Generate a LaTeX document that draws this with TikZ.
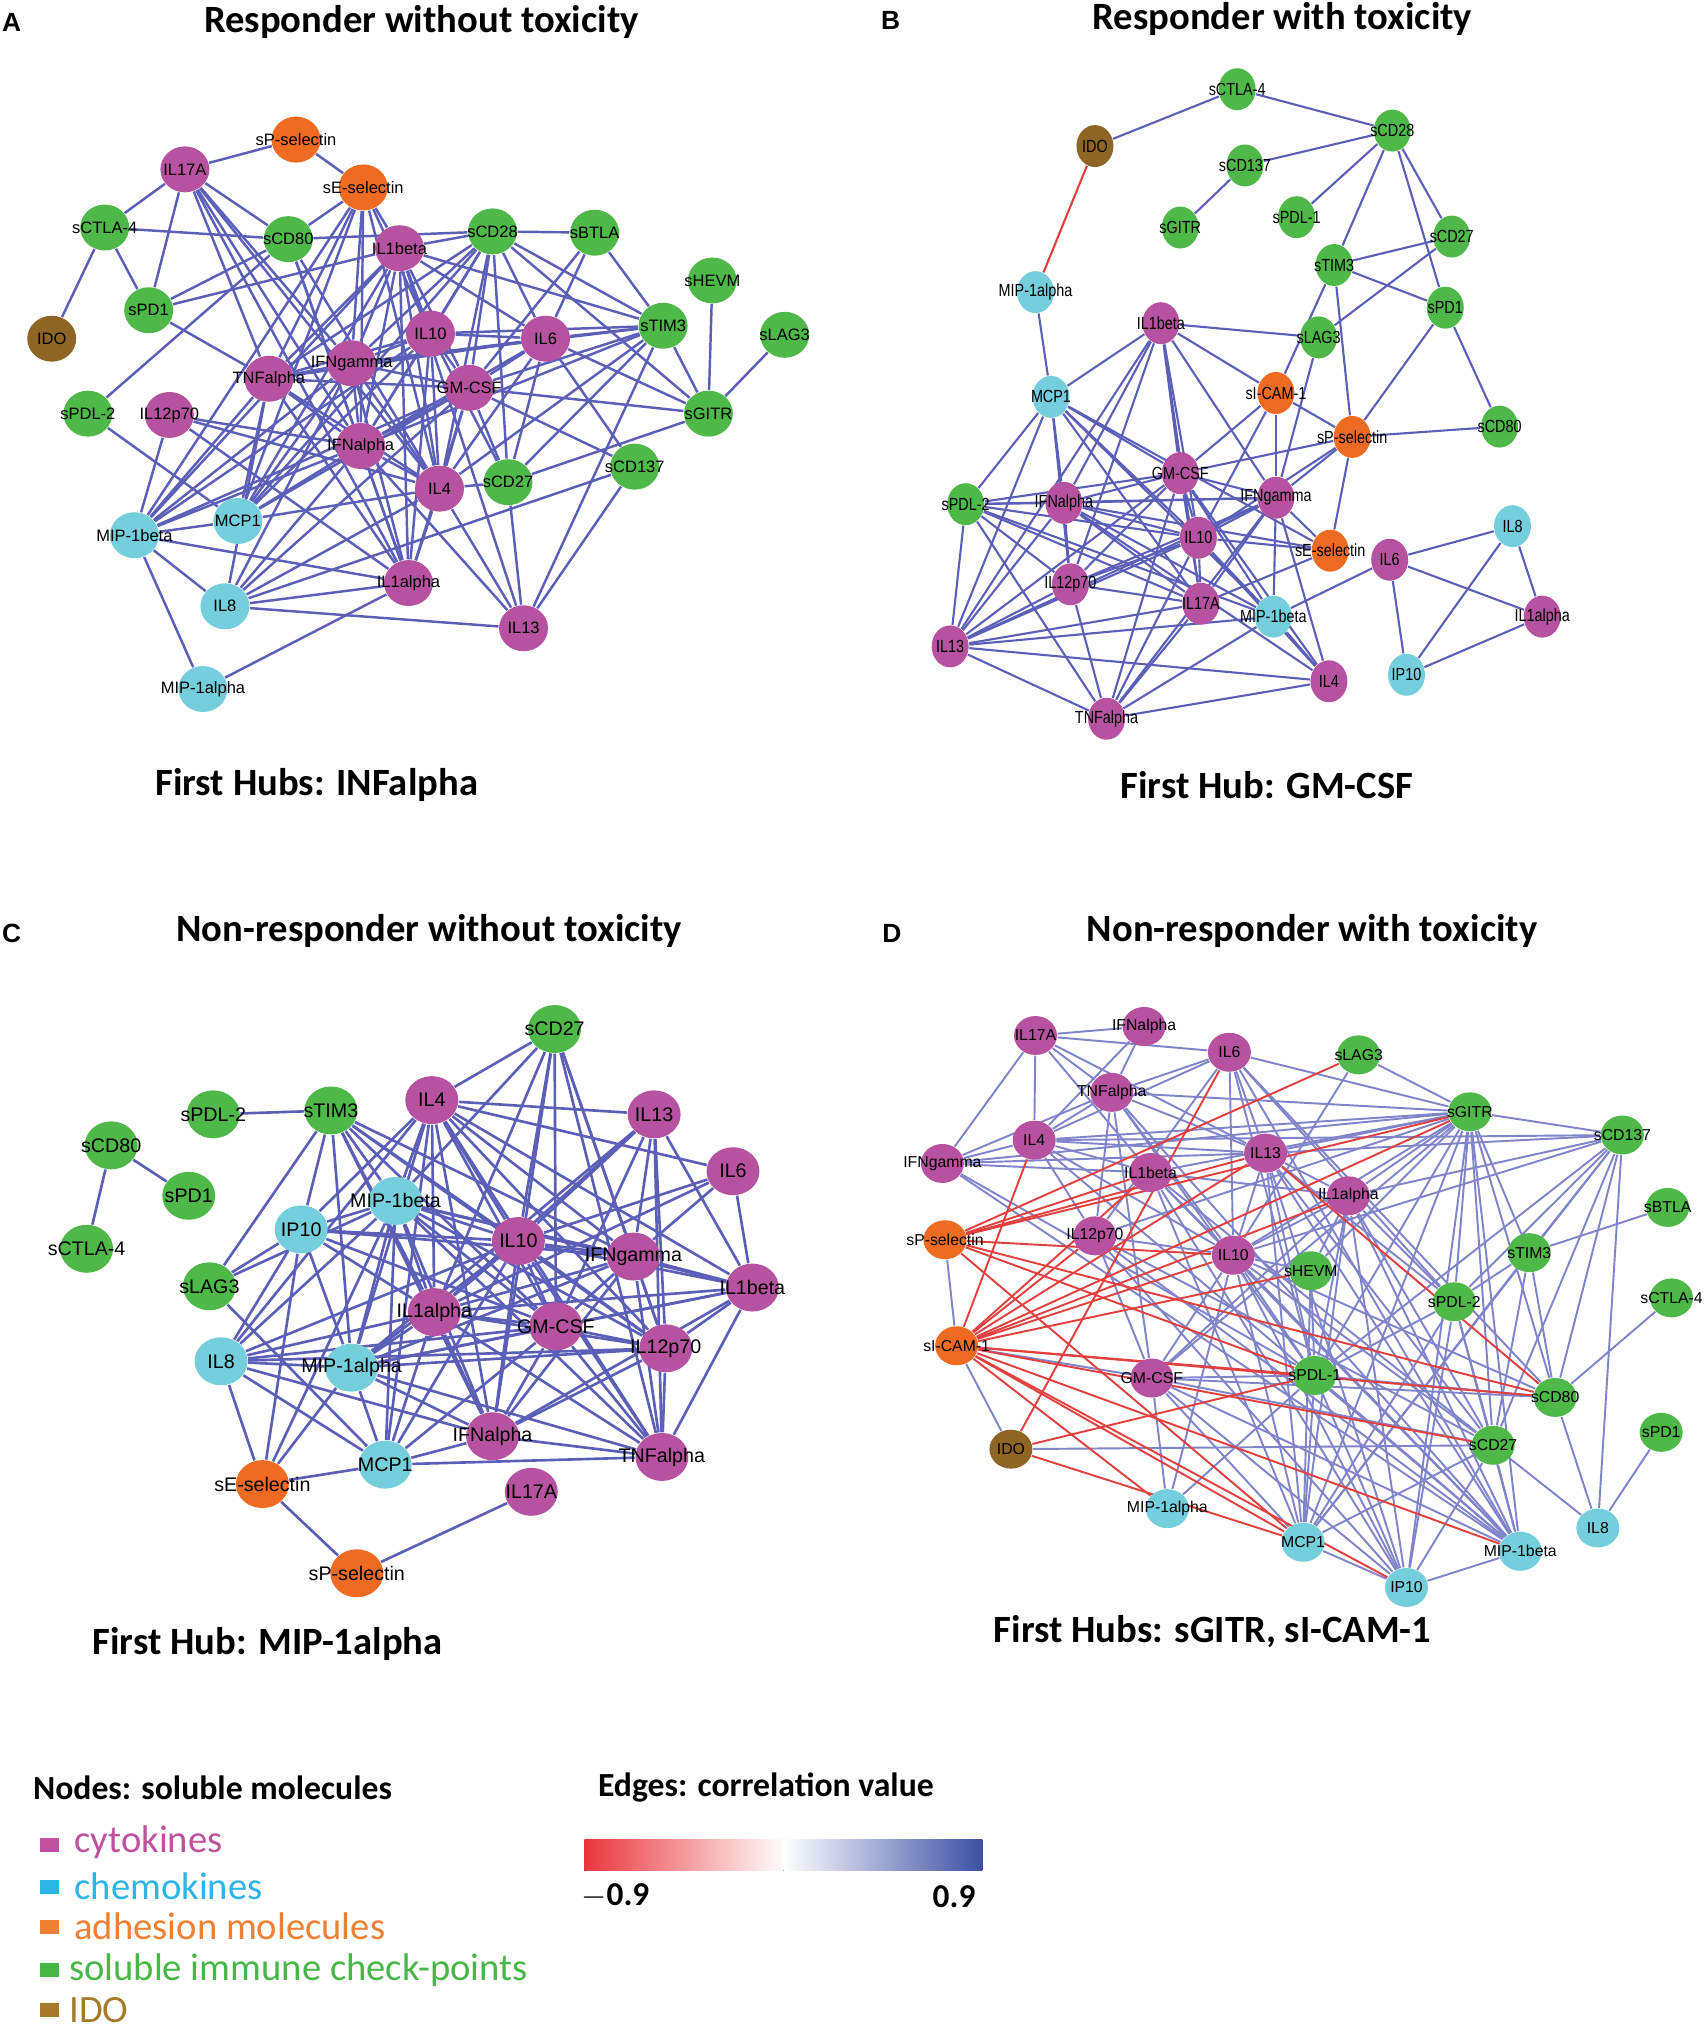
\documentclass[tikz,border=0pt]{standalone}
\usepackage{fontspec}
\setmainfont{Liberation Sans}
\newfontfamily\calib{Carlito}
\newfontfamily\narrowsf[FakeStretch=0.82]{Liberation Sans}
\usepackage{tikz}
\usetikzlibrary{shapes.geometric,backgrounds}
\definecolor{cytoC}{HTML}{B6529F}
\definecolor{chemC}{HTML}{74CEDC}
\definecolor{adhC}{HTML}{EE6B21}
\definecolor{chkC}{HTML}{4EB848}
\definecolor{idoC}{HTML}{8F6526}
\definecolor{edgeB}{HTML}{5B5FB7}
\definecolor{edgeL}{HTML}{8084CA}
\definecolor{edgeR}{HTML}{E2403F}
\definecolor{barR}{HTML}{E8363D}
\definecolor{barB}{HTML}{3C4FA2}
\definecolor{txCyto}{HTML}{C0519E}
\definecolor{txChem}{HTML}{2EB5E8}
\definecolor{txAdh}{HTML}{EF7F33}
\definecolor{txChk}{HTML}{47B848}
\definecolor{txIdo}{HTML}{A57B2A}

\tikzset{
  mol/.style={ellipse, inner sep=0pt},
  pa/.style={mol, minimum width=.49cm, minimum height=.46cm, label={[font=\fontsize{4.7}{5}\selectfont]center:#1}},
  pb/.style={mol, minimum width=.37cm, minimum height=.42cm, label={[font=\narrowsf\fontsize{5}{5}\selectfont]center:#1}},
  pc/.style={mol, minimum width=.53cm, minimum height=.48cm, label={[font=\fontsize{5.6}{6}\selectfont]center:#1}},
  pd/.style={mol, minimum width=.43cm, minimum height=.39cm, label={[font=\fontsize{4.5}{5}\selectfont]center:#1}},
  cyt/.style={fill=cytoC}, chem/.style={fill=chemC}, adh/.style={fill=adhC},
  chk/.style={fill=chkC}, idoN/.style={fill=idoC},
  ea/.style={draw=edgeB, line width=.7pt},
  eb/.style={draw=edgeB, line width=.6pt},
  ec/.style={draw=edgeB, line width=.75pt},
  ed/.style={draw=edgeL, line width=.55pt},
  neg/.style={draw=edgeR, line width=.55pt},
  ttl/.style={font=\calib\bfseries\fontsize{11}{13}\selectfont},
  pnl/.style={font=\bfseries\fontsize{7.5}{9}\selectfont},
  hd/.style={font=\calib\bfseries\fontsize{9.6}{11}\selectfont, anchor=west},
  itm/.style={font=\calib\fontsize{11}{13}\selectfont, anchor=west},
  sq/.style={minimum width=.19cm, minimum height=.14cm, inner sep=0pt}
}

\begin{document}
\begin{tikzpicture}[x=0.012932cm, y=-0.012932cm]
\useasboundingbox (0,0) rectangle (1320,1568);

% titles
\node[pnl] (lA) at (9,17) {A};
\node[ttl] (tA) at (326,17) {Responder without toxicity};
\node[pnl] (lB) at (689,16) {B};
\node[ttl] (tB) at (992,15) {Responder with toxicity};
\node[pnl] (lC) at (9,722) {C};
\node[ttl] (tC) at (332,720) {Non-responder without toxicity};
\node[pnl] (lD) at (690,722) {D};
\node[ttl] (tD) at (1015,720) {Non-responder with toxicity};
\node[ttl] (hA) at (245,607) {First Hubs: INFalpha};
\node[ttl] (hB) at (980,607) {First Hub: GM-CSF};
\node[ttl] (hC) at (207,1272) {First Hub: MIP-1alpha};
\node[ttl] (hD) at (938,1262) {First Hubs: sGITR, sI-CAM-1};

% panel A
\node[pa=IL17A, cyt] (aIL17A) at (143,131) {};
\node[pa=sP-selectin, adh] (aSP) at (229,108) {};
\node[pa=sE-selectin, adh] (aSE) at (281,145) {};
\node[pa=sCTLA-4, chk] (aCTLA) at (81,176) {};
\node[pa=sCD80, chk] (aCD80) at (223,185) {};
\node[pa=IL1beta, cyt] (aIL1b) at (309,192) {};
\node[pa=sCD28, chk] (aCD28) at (381,179) {};
\node[pa=sBTLA, chk] (aBTLA) at (460,180) {};
\node[pa=sHEVM, chk] (aHEVM) at (551,217) {};
\node[pa=sPD1, chk] (aPD1) at (115,240) {};
\node[pa=IDO, idoN] (aIDO) at (40,262) {};
\node[pa=IL10, cyt] (aIL10) at (333,258) {};
\node[pa=IL6, cyt] (aIL6) at (422,262) {};
\node[pa=sTIM3, chk] (aTIM3) at (513,252) {};
\node[pa=sLAG3, chk] (aLAG3) at (607,259) {};
\node[pa=IFNgamma, cyt] (aIFNg) at (272,281) {};
\node[pa=TNFalpha, cyt] (aTNFa) at (208,293) {};
\node[pa=GM-CSF, cyt] (aGMCSF) at (363,300) {};
\node[pa=sGITR, chk] (aGITR) at (548,320) {};
\node[pa=sPDL-2, chk] (aPDL2) at (68,320) {};
\node[pa=IL12p70, cyt] (aIL12) at (131,321) {};
\node[pa=IFNalpha, cyt] (aIFNa) at (279,345) {};
\node[pa=IL4, cyt] (aIL4) at (340,378) {};
\node[pa=sCD27, chk] (aCD27) at (393,373) {};
\node[pa=sCD137, chk] (aCD137) at (491,361) {};
\node[pa=MCP1, chem] (aMCP1) at (184,403) {};
\node[pa=MIP-1beta, chem] (aMIP1b) at (104,414) {};
\node[pa=IL1alpha, cyt] (aIL1a) at (316,451) {};
\node[pa=IL8, chem] (aIL8) at (174,469) {};
\node[pa=IL13, cyt] (aIL13) at (405,486) {};
\node[pa=MIP-1alpha, chem] (aMIP1a) at (157,533) {};

% panel B
\node[pb=sCTLA-4, chk] (bCTLA) at (957,69) {};
\node[pb=sCD28, chk] (bCD28) at (1077,101) {};
\node[pb=IDO, idoN] (bIDO) at (847,113) {};
\node[pb=sCD137, chk] (bCD137) at (963,128) {};
\node[pb=sGITR, chk] (bGITR) at (913,176) {};
\node[pb=sPDL-1, chk] (bPDL1) at (1003,168) {};
\node[pb=sCD27, chk] (bCD27) at (1123,183) {};
\node[pb=sTIM3, chk] (bTIM3) at (1032,205) {};
\node[pb=sPD1, chk] (bPD1) at (1118,238) {};
\node[pb=MIP-1alpha, chem] (bMIP1a) at (801,226) {};
\node[pb=IL1beta, cyt] (bIL1b) at (898,250) {};
\node[pb=sLAG3, chk] (bLAG3) at (1020,261) {};
\node[pb=MCP1, chem] (bMCP1) at (813,307) {};
\node[pb=sI-CAM-1, adh] (bICAM) at (987,304) {};
\node[pb=sCD80, chk] (bCD80) at (1160,330) {};
\node[pb=sP-selectin, adh] (bSP) at (1046,338) {};
\node[pb=GM-CSF, cyt] (bGMCSF) at (913,366) {};
\node[pb=sPDL-2, chk] (bPDL2) at (747,390) {};
\node[pb=IFNalpha, cyt] (bIFNa) at (823,389) {};
\node[pb=IFNgamma, cyt] (bIFNg) at (987,385) {};
\node[pb=IL10, cyt] (bIL10) at (927,416) {};
\node[pb=sE-selectin, adh] (bSE) at (1029,426) {};
\node[pb=IL6, cyt] (bIL6) at (1075,433) {};
\node[pb=IL8, chem] (bIL8) at (1170,407) {};
\node[pb=IL12p70, cyt] (bIL12) at (828,452) {};
\node[pb=IL17A, cyt] (bIL17A) at (929,467) {};
\node[pb=MIP-1beta, chem] (bMIP1b) at (985,477) {};
\node[pb=IL1alpha, cyt] (bIL1a) at (1193,477) {};
\node[pb=IL13, cyt] (bIL13) at (735,500) {};
\node[pb=IP10, chem] (bIP10) at (1088,522) {};
\node[pb=IL4, cyt] (bIL4) at (1028,527) {};
\node[pb=TNFalpha, cyt] (bTNFa) at (856,556) {};

% panel C
\node[pc=sCD27, chk] (cCD27) at (429,796) {};
\node[pc=IL4, cyt] (cIL4) at (334,851) {};
\node[pc=sPDL-2, chk] (cPDL2) at (165,862) {};
\node[pc=sTIM3, chk] (cTIM3) at (256,859) {};
\node[pc=IL13, cyt] (cIL13) at (506,862) {};
\node[pc=sCD80, chk] (cCD80) at (86,886) {};
\node[pc=IL6, cyt] (cIL6) at (567,906) {};
\node[pc=sPD1, chk] (cPD1) at (146,925) {};
\node[pc=MIP-1beta, chem] (cMIP1b) at (306,929) {};
\node[pc=IP10, chem] (cIP10) at (233,951) {};
\node[pc=sCTLA-4, chk] (cCTLA) at (67,966) {};
\node[pc=IL10, cyt] (cIL10) at (401,960) {};
\node[pc=IFNgamma, cyt] (cIFNg) at (490,972) {};
\node[pc=IL1beta, cyt] (cIL1b) at (582,996) {};
\node[pc=sLAG3, chk] (cLAG3) at (162,995) {};
\node[pc=IL1alpha, cyt] (cIL1a) at (336,1015) {};
\node[pc=GM-CSF, cyt] (cGMCSF) at (430,1026) {};
\node[pc=IL12p70, cyt] (cIL12) at (515,1043) {};
\node[pc=IL8, chem] (cIL8) at (171,1053) {};
\node[pc=MIP-1alpha, chem] (cMIP1a) at (272,1058) {};
\node[pc=IFNalpha, cyt] (cIFNa) at (381,1111) {};
\node[pc=TNFalpha, cyt] (cTNFa) at (512,1127) {};
\node[pc=MCP1, chem] (cMCP1) at (298,1133) {};
\node[pc=sE-selectin, adh] (cSE) at (203,1148) {};
\node[pc=IL17A, cyt] (cIL17A) at (411,1154) {};
\node[pc=sP-selectin, adh] (cSP) at (276,1217) {};

% panel D
\node[pd=IL17A, cyt] (dIL17A) at (801,801) {};
\node[pd=IFNalpha, cyt] (dIFNa) at (885,794) {};
\node[pd=IL6, cyt] (dIL6) at (951,814) {};
\node[pd=sLAG3, chk] (dLAG3) at (1051,816) {};
\node[pd=TNFalpha, cyt] (dTNFa) at (860,845) {};
\node[pd=sGITR, chk] (dGITR) at (1137,860) {};
\node[pd=sCD137, chk] (dCD137) at (1255,878) {};
\node[pd=IL4, cyt] (dIL4) at (800,882) {};
\node[pd=IFNgamma, cyt] (dIFNg) at (729,900) {};
\node[pd=IL13, cyt] (dIL13) at (979,892) {};
\node[pd=IL1beta, cyt] (dIL1b) at (890,907) {};
\node[pd=IL1alpha, cyt] (dIL1a) at (1043,925) {};
\node[pd=sBTLA, chk] (dBTLA) at (1290,934) {};
\node[pd=sP-selectin, adh] (dSP) at (731,959) {};
\node[pd=IL12p70, cyt] (dIL12) at (847,956) {};
\node[pd=IL10, cyt] (dIL10) at (954,971) {};
\node[pd=sTIM3, chk] (dTIM3) at (1183,969) {};
\node[pd=sHEVM, chk] (dHEVM) at (1014,983) {};
\node[pd=sCTLA-4, chk] (dCTLA) at (1293,1004) {};
\node[pd=sPDL-2, chk] (dPDL2) at (1125,1007) {};
\node[pd=sI-CAM-1, adh] (dICAM) at (740,1041) {};
\node[pd=GM-CSF, cyt] (dGMCSF) at (891,1066) {};
\node[pd=sPDL-1, chk] (dPDL1) at (1017,1064) {};
\node[pd=sCD80, chk] (dCD80) at (1203,1081) {};
\node[pd=IDO, idoN] (dIDO) at (782,1121) {};
\node[pd=sCD27, chk] (dCD27) at (1155,1118) {};
\node[pd=sPD1, chk] (dPD1) at (1285,1108) {};
\node[pd=MIP-1alpha, chem] (dMIP1a) at (903,1167) {};
\node[pd=IL8, chem] (dIL8) at (1236,1182) {};
\node[pd=MCP1, chem] (dMCP1) at (1008,1193) {};
\node[pd=MIP-1beta, chem] (dMIP1b) at (1176,1200) {};
\node[pd=IP10, chem] (dIP10) at (1088,1228) {};

% edges under the nodes
\begin{scope}[on background layer]
\path[ea] (aIL17A) edge (aSP) edge (aCTLA) edge (aPD1) edge (aCD80) edge (aTNFa) edge (aIFNg) edge (aIFNa) edge (aIL4) edge (aIL1a);
\path[ea] (aSP) edge (aSE);
\path[ea] (aSE) edge (aCD80) edge (aIL1b) edge (aTNFa) edge (aIFNg) edge (aIFNa) edge (aMCP1) edge (aMIP1b) edge (aIL10) edge (aIL4);
\path[ea] (aCTLA) edge (aCD80) edge (aPD1) edge (aIDO);
\path[ea] (aCD80) edge (aCD28) edge (aPD1) edge (aPDL2) edge (aIFNa) edge (aIL4) edge (aIL1a);
\path[ea] (aPD1) edge (aIL1b) edge (aTNFa);
\path[ea] (aIL1b) edge (aCD28) edge (aIL10) edge (aGMCSF) edge (aIL4) edge (aIFNa) edge (aTNFa) edge (aMCP1) edge (aMIP1b) edge (aIFNg) edge (aIL6) edge (aTIM3) edge (aIL1a) edge (aIL13);
\path[ea] (aCD28) edge (aBTLA) edge (aIL10) edge (aGMCSF) edge (aIL4) edge (aCD27) edge (aIL6) edge (aTIM3) edge (aGITR) edge (aIFNg) edge (aIFNa) edge (aMCP1) edge (aTNFa);
\path[ea] (aBTLA) edge (aTIM3) edge (aIL6) edge (aGMCSF);
\path[ea] (aHEVM) edge (aGITR);
\path[ea] (aLAG3) edge (aGITR);
\path[ea] (aTIM3) edge (aGITR) edge (aIL10) edge (aIL6) edge (aGMCSF) edge (aIL4) edge (aIFNa) edge (aCD27) edge (aIL13) edge (aIFNg);
\path[ea] (aGITR) edge (aIL6) edge (aCD27) edge (aGMCSF);
\path[ea] (aIL10) edge (aIL6) edge (aGMCSF) edge (aIL4) edge (aIFNg) edge (aTNFa) edge (aIFNa) edge (aMCP1) edge (aMIP1b) edge (aIL1a) edge (aCD27);
\path[ea] (aIL6) edge (aCD137) edge (aIL4) edge (aCD27) edge (aGMCSF) edge (aIFNa) edge (aTNFa) edge (aIFNg);
\path[ea] (aGMCSF) edge (aCD137) edge (aCD27) edge (aIL4) edge (aIFNg) edge (aTNFa) edge (aIFNa) edge (aMCP1) edge (aMIP1b) edge (aIL8) edge (aIL1a);
\path[ea] (aIFNg) edge (aTNFa) edge (aIFNa) edge (aIL4) edge (aMCP1) edge (aMIP1b) edge (aIL8) edge (aIL1a);
\path[ea] (aTNFa) edge (aIFNa) edge (aIL4) edge (aIL1a) edge (aMCP1) edge (aMIP1b) edge (aIL8);
\path[ea] (aPDL2) edge (aMCP1);
\path[ea] (aIL12) edge (aMIP1b) edge (aIFNa) edge (aIL4) edge (aIL1a);
\path[ea] (aIFNa) edge (aIL4) edge (aIL1a) edge (aMCP1) edge (aMIP1b) edge (aIL8) edge (aIL13);
\path[ea] (aIL4) edge (aCD27) edge (aIL13) edge (aIL1a) edge (aMCP1) edge (aIL8);
\path[ea] (aCD27) edge (aIL13);
\path[ea] (aCD137) edge (aIL13) edge (aIL8);
\path[ea] (aMCP1) edge (aMIP1b);
\path[ea] (aMIP1b) edge (aIL8) edge (aMIP1a) edge (aIL1a);
\path[ea] (aIL8) edge (aIL1a) edge (aIL13);
\path[ea] (aMIP1a) edge (aIL1a);

\path[eb] (bCTLA) edge (bIDO) edge (bCD28);
\path[neg, line width=.6pt] (bIDO) edge (bMIP1a);
\path[eb] (bCD28) edge (bCD137) edge (bPDL1) edge (bTIM3) edge (bCD27) edge (bPD1);
\path[eb] (bCD137) edge (bGITR);
\path[eb] (bTIM3) edge (bCD27) edge (bPD1) edge (bICAM) edge (bSP);
\path[eb] (bCD27) edge (bLAG3);
\path[eb] (bPD1) edge (bSP) edge (bCD80);
\path[eb] (bMIP1a) edge (bMCP1);
\path[eb] (bIL1b) edge (bLAG3) edge (bMCP1) edge (bICAM) edge (bGMCSF) edge (bIL10) edge (bIFNa) edge (bIL17A) edge (bIFNg) edge (bIL13) edge (bIL12);
\path[eb] (bLAG3) edge (bIFNg);
\path[eb] (bICAM) edge (bSP) edge (bGMCSF) edge (bIFNg) edge (bIL10);
\path[eb] (bSP) edge (bCD80) edge (bGMCSF) edge (bIFNg) edge (bSE) edge (bIL10);
\path[eb] (bMCP1) edge (bPDL2) edge (bIL13) edge (bIFNa) edge (bGMCSF) edge (bIL10) edge (bIL17A) edge (bMIP1b) edge (bIL12) edge (bSE);
\path[eb] (bPDL2) edge (bIFNa) edge (bGMCSF) edge (bIL10) edge (bIL13) edge (bIL12) edge (bIL17A) edge (bTNFa) edge (bIFNg) edge (bMIP1b);
\path[eb] (bIFNa) edge (bGMCSF) edge (bIL10) edge (bIFNg) edge (bIL12) edge (bIL13) edge (bIL17A) edge (bMIP1b) edge (bSE) edge (bIL4);
\path[eb] (bGMCSF) edge (bIL10) edge (bIFNg) edge (bIL12) edge (bIL13) edge (bIL17A) edge (bMIP1b) edge (bIL4) edge (bTNFa);
\path[eb] (bIFNg) edge (bIL10) edge (bIL12) edge (bSE) edge (bMIP1b) edge (bIL4) edge (bIL13) edge (bTNFa) edge (bIL17A);
\path[eb] (bIL10) edge (bIL12) edge (bIL13) edge (bSE) edge (bMIP1b) edge (bIL4) edge (bIL17A) edge (bTNFa);
\path[eb] (bIL12) edge (bIL13) edge (bTNFa) edge (bIL17A);
\path[eb] (bIL13) edge (bIL17A) edge (bTNFa) edge (bIL4) edge (bMIP1b);
\path[eb] (bIL17A) edge (bTNFa) edge (bSE);
\path[eb] (bMIP1b) edge (bIL6) edge (bTNFa) edge (bIL4);
\path[eb] (bTNFa) edge (bIL4);
\path[eb] (bIL6) edge (bIL8) edge (bIL1a) edge (bIP10);
\path[eb] (bIL8) edge (bIP10) edge (bIL1a);
\path[eb] (bIP10) edge (bIL1a);

\path[ec] (cCD80) edge (cPD1) edge (cCTLA);
\path[ec] (cPDL2) edge (cTIM3);
\path[ec] (cTIM3) edge (cLAG3) edge (cMIP1b) edge (cIL1a) edge (cIL10) edge (cGMCSF) edge (cIFNg) edge (cMIP1a) edge (cIFNa) edge (cIL12) edge (cIP10);
\path[ec] (cLAG3) edge (cIP10) edge (cMIP1b) edge (cMCP1);
\path[ec] (cIP10) edge (cMIP1b) edge (cIL4) edge (cIL10) edge (cIL1a) edge (cGMCSF) edge (cMIP1a) edge (cIL8) edge (cSE) edge (cIFNg);
\path[ec] (cIL8) edge (cMIP1b) edge (cMIP1a) edge (cIL1a) edge (cGMCSF) edge (cIL10) edge (cMCP1) edge (cSE) edge (cIL12) edge (cIFNa) edge (cIL4);
\path[ec] (cMIP1a) edge (cMIP1b) edge (cIL4) edge (cIL10) edge (cGMCSF) edge (cIL1a) edge (cIFNa) edge (cMCP1) edge (cSE) edge (cIL12) edge (cTNFa) edge (cIFNg) edge (cIL1b) edge (cIL13);
\path[ec] (cMCP1) edge (cSE) edge (cMIP1b) edge (cIL1a) edge (cIFNa) edge (cTNFa) edge (cGMCSF) edge (cIL10) edge (cIL4);
\path[ec] (cSE) edge (cSP) edge (cMIP1b);
\path[ec] (cSP) edge (cIL17A);
\path[ec] (cIL4) edge (cCD27) edge (cIL13) edge (cIL6) edge (cIL1b) edge (cIFNg) edge (cIL10) edge (cGMCSF) edge (cIL1a) edge (cIFNa) edge (cIL12) edge (cTNFa) edge (cMIP1b);
\path[ec] (cCD27) edge (cIL10) edge (cGMCSF) edge (cIFNg) edge (cIL1a) edge (cIFNa) edge (cTNFa) edge (cIL12) edge (cMIP1b);
\path[ec] (cIL13) edge (cIL1b) edge (cIFNg) edge (cIL12) edge (cTNFa) edge (cIL10) edge (cGMCSF) edge (cIL1a);
\path[ec] (cIL6) edge (cIL1b) edge (cIL10) edge (cIL1a) edge (cIFNg);
\path[ec] (cIL10) edge (cIFNg) edge (cIL1b) edge (cGMCSF) edge (cIL12) edge (cIFNa) edge (cTNFa) edge (cIL1a) edge (cMIP1b);
\path[ec] (cIFNg) edge (cIL1b) edge (cGMCSF) edge (cIL12) edge (cTNFa) edge (cIFNa) edge (cIL1a) edge (cMIP1b);
\path[ec] (cIL1b) edge (cIL12) edge (cTNFa) edge (cGMCSF) edge (cIL1a) edge (cIFNa) edge (cMIP1b);
\path[ec] (cGMCSF) edge (cIL12) edge (cTNFa) edge (cIFNa) edge (cIL1a) edge (cMIP1b);
\path[ec] (cIL12) edge (cTNFa) edge (cIFNa) edge (cIL1a) edge (cMIP1b);
\path[ec] (cIFNa) edge (cTNFa) edge (cIL1a) edge (cMIP1b);
\path[ec] (cTNFa) edge (cIL1a) edge (cMIP1b);
\path[ec] (cIL1a) edge (cMIP1b);

\path[ed] (dIL17A) edge (dIFNa) edge (dTNFa) edge (dIL4) edge (dIFNg) edge (dIL13) edge (dIL1b) edge (dIL6);
\path[ed] (dIFNa) edge (dTNFa) edge (dIL4);
\path[ed] (dIL6) edge (dTNFa) edge (dIL4) edge (dIL13) edge (dIL10) edge (dPDL1) edge (dGITR) edge (dMIP1b) edge (dCD80) edge (dIL12) edge (dPDL2);
\path[ed] (dTNFa) edge (dIL4) edge (dIL13) edge (dGITR) edge (dIL10) edge (dGMCSF) edge (dPDL1) edge (dIL12) edge (dIFNg) edge (dMIP1b);
\path[ed] (dIL4) edge (dIFNg) edge (dIL13) edge (dGITR) edge (dIL1b) edge (dCD137) edge (dMIP1b) edge (dIL10) edge (dIL12);
\path[ed] (dIFNg) edge (dIL13) edge (dGITR) edge (dIL1b) edge (dMIP1b) edge (dPDL1);
\path[ed] (dIL13) edge (dGITR) edge (dCD137) edge (dIL1a) edge (dIL10) edge (dPDL1) edge (dMCP1) edge (dMIP1b) edge (dIP10) edge (dCD27) edge (dPDL2);
\path[ed] (dIL1b) edge (dGITR) edge (dIL10) edge (dIL1a) edge (dMIP1b) edge (dIP10) edge (dMCP1) edge (dCD27);
\path[ed] (dLAG3) edge (dGITR) edge (dIL10);
\path[ed] (dGITR) edge (dCD137) edge (dIL1a) edge (dIL10) edge (dPDL2) edge (dTIM3) edge (dCD27) edge (dPDL1) edge (dMCP1) edge (dIP10) edge (dMIP1b) edge (dCD80) edge (dGMCSF) edge (dIL12) edge (dHEVM);
\path[ed] (dCD137) edge (dIL1a) edge (dIL10) edge (dTIM3) edge (dPDL2) edge (dCD27) edge (dIL8) edge (dCD80) edge (dPDL1) edge (dMCP1);
\path[ed] (dIL1a) edge (dHEVM) edge (dPDL1) edge (dPDL2) edge (dCD27) edge (dMIP1b) edge (dIP10) edge (dMCP1) edge (dIL10) edge (dGMCSF);
\path[ed] (dBTLA) edge (dTIM3);
\path[ed] (dTIM3) edge (dPDL2) edge (dCD80) edge (dCD27) edge (dMCP1);
\path[ed] (dCTLA) edge (dCD80);
\path[ed] (dPDL2) edge (dCD27) edge (dMIP1b) edge (dMCP1) edge (dIP10) edge (dPDL1);
\path[ed] (dCD80) edge (dPDL1) edge (dIL8) edge (dIL10) edge (dGMCSF);
\path[ed] (dPD1) edge (dIL8);
\path[ed] (dCD27) edge (dIL8) edge (dMIP1b) edge (dIP10) edge (dMCP1) edge (dGMCSF);
\path[ed] (dMIP1b) edge (dIP10) edge (dPDL1) edge (dGMCSF) edge (dIL10);
\path[ed] (dIP10) edge (dMCP1) edge (dPDL1) edge (dGMCSF) edge (dIL12);
\path[ed] (dMCP1) edge (dPDL1) edge (dGMCSF);
\path[ed] (dMIP1a) edge (dGMCSF) edge (dIL10) edge (dPDL1);
\path[ed] (dIDO) edge (dICAM) edge (dCD27);
\path[ed] (dSP) edge (dICAM);
\path[ed] (dICAM) edge (dGMCSF);
\path[ed] (dGMCSF) edge (dPDL1) edge (dIL12) edge (dIL10);
\path[ed] (dIL12) edge (dIL10) edge (dMIP1b) edge (dCD27);
\path[ed] (dIL10) edge (dPDL1) edge (dMCP1) edge (dMIP1b) edge (dIP10) edge (dCD27) edge (dHEVM);
\path[ed] (dHEVM) edge (dPDL1) edge (dMCP1);
\path[neg] (dSP) edge (dLAG3) edge (dGITR) edge (dIL10) edge (dPDL1) edge (dCD80) edge (dMCP1) edge (dIL1b) edge (dIL13);
\path[neg] (dICAM) edge (dIL4) edge (dIL1b) edge (dIL13) edge (dIL12) edge (dGITR) edge (dIL1a) edge (dIL10) edge (dHEVM) edge (dPDL1) edge (dCD80) edge (dCD27) edge (dMIP1b) edge (dIP10) edge (dMCP1) edge (dMIP1a);
\path[neg] (dIDO) edge (dIL6) edge (dMCP1) edge (dPDL1);
\path[neg] (dIL13) edge (dCD80);
\end{scope}

% legend
\node[hd] (nodesHd) at (16,1383) {Nodes: soluble molecules};
\node[hd] (edgesHd) at (453,1383) {Edges: correlation value};
\node[sq, fill=txCyto] (sqCyto) at (38,1427) {};
\node[itm, text=txCyto] (lgCyto) at (48,1425) {cytokines};
\node[sq, fill=txChem] (sqChem) at (38,1460) {};
\node[itm, text=txChem] (lgChem) at (48,1459) {chemokines};
\node[sq, fill=txAdh] (sqAdh) at (38,1491) {};
\node[itm, text=txAdh] (lgAdh) at (48,1490) {adhesion molecules};
\node[sq, fill=txChk] (sqChk) at (38,1524) {};
\node[itm, text=txChk] (lgChk) at (44,1524) {soluble immune check-points};
\node[sq, fill=txIdo] (sqIdo) at (38,1555) {};
\node[itm, text=txIdo] (lgIdo) at (44,1555) {IDO};
\fill[left color=barR, right color=white] (452,1423) rectangle (607,1447);
\fill[left color=white, right color=barB] (606,1423) rectangle (760,1447);
\node[font=\calib\bfseries\fontsize{9.5}{11}\selectfont] (minV) at (476,1467) {$-$0.9};
\node[font=\calib\bfseries\fontsize{9.5}{11}\selectfont] (maxV) at (738,1467) {0.9};
\end{tikzpicture}
\end{document}
